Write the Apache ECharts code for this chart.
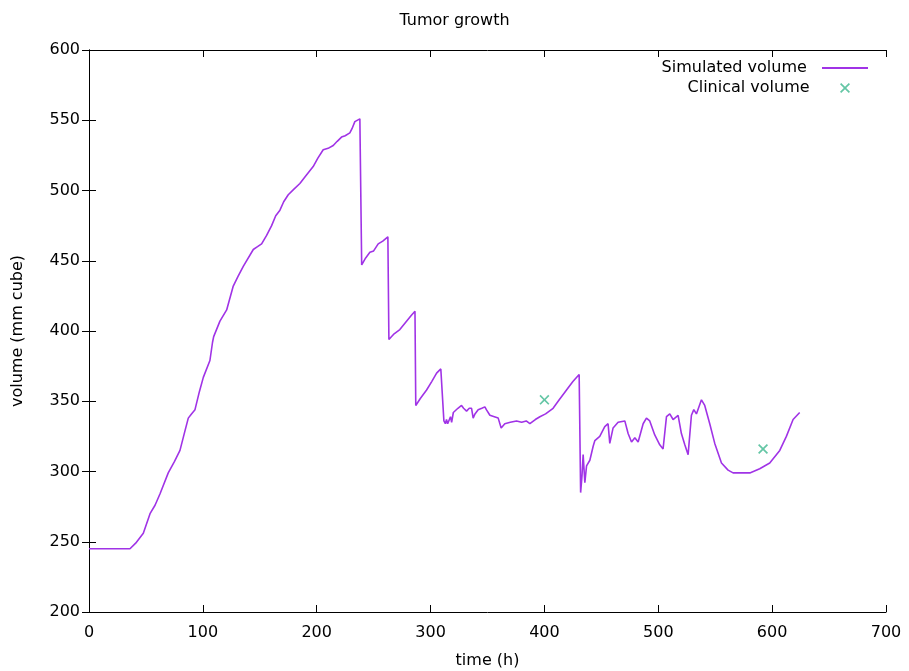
<!DOCTYPE html>
<html>
<head>
<meta charset="utf-8">
<script src="https://cdn.jsdelivr.net/npm/echarts@6/dist/echarts.min.js"></script>
<style>html,body{margin:0;padding:0;background:#fff;}#c{width:909px;height:671px;}</style>
</head>
<body>
<div id="c"></div>
<script>
const simTimes = [0,36,41,47.7,53.6,58,62.3,69.6,75,79.9,84,87.2,90,93.1,97,100.4,106.2,108.5,109.5,115,120.9,126.7,131,135.5,144.3,148,151.6,156,160.4,164,167.7,171,175,180,185.2,191,196.9,201,205.7,210,214.5,218,221.8,225,229.1,231,233.5,237.9,239,239.5,243,246.7,250,254,258,262.5,263.4,268,273,278,283,286.3,287,291,296.5,301,305.3,309,310.5,311,311.7,313,314,315,316.3,317.5,318.5,320,321.3,324,327.2,329,331.6,334,336,337.4,339,341.8,345,347.7,349,352.1,356,359.4,362,365.2,370,375.5,380,384,387.2,392,396,401,407.6,413,419.4,425,430.5,431,431.8,433,434,435.5,437,439.9,442.8,444.3,448.6,453,455.9,457.4,460.3,464.7,470.6,473.5,476.5,479.4,482.3,486.7,489.6,492.5,496.9,501.3,504.2,507.2,510.1,513,517.4,520.3,523.3,526.2,529.1,531.2,533.5,537.9,540.8,545.2,549.6,555.5,561.3,565.7,571.6,580.4,589.1,597.9,606.7,612.5,618.4,624.2];
const simVolumes = [245,245,249,256,270,276,284,299,307,315,328,338,341,344,357,367,379,392,396,407,415,432,439,446,458,460,462,468,475,482,486,492,497,501,505,511,517,523,529,530,532,535,538,539,541,544,549,551,551,447,452,456,457,462,464,467,394,398,401,406,411,414,347,352,358,364,370,373,374,374,336,334,337,334,335,339,335,342,343,345,347,345,343,345,345,338,341,344,345,346,344,340,339,338,331,334,335,336,335,336,334,337,339,341,345,351,358,364,369,369,285,297,312,292,304,308,318,322,325,332,334,320,331,335,336,327,321,324,321,334,338,336,326,319,316,339,341,337,340,327,319,312,340,344,341,351,347,334,320,306,301,299,299,299,302,306,315,325,337,342];
const clinicalTimes = [400, 592];
const clinicalVolumes = [351, 316];
const xTicks = [0,100,200,300,400,500,600,700];
const yTicks = [200,250,300,350,400,450,500,550,600];

const simData = simTimes.map((t, i) => [t, simVolumes[i]]);
const clinData = clinicalTimes.map((t, i) => [t, clinicalVolumes[i]]);
const FONT = 'DejaVu Sans';
const FS = 16;
const xPath = 'path://M0,1.2L1.2,0L5,3.8L8.8,0L10,1.2L6.2,5L10,8.8L8.8,10L5,6.2L1.2,10L0,8.8L3.8,5Z';
const axisCommon = {
  axisLine: {show: true, lineStyle: {color: '#000', width: 1}},
  axisTick: {show: true, inside: true, length: 7, lineStyle: {color: '#000'}},
  splitLine: {show: false}
};
const chart = echarts.init(document.getElementById('c'), null, {renderer: 'canvas'});
chart.setOption({
  animation: false,
  backgroundColor: '#fff',
  title: {text: 'Tumor growth', left: 'center', top: 8,
    textStyle: {fontFamily: FONT, fontSize: FS, fontWeight: 'normal', color: '#000'}},
  grid: {left: 89, right: 23, top: 50, bottom: 59, containLabel: false, outerBoundsMode: 'none'},
  legend: [
    {data: [{name: 'Simulated volume', icon: 'rect'}], right: 41, top: 60, padding: 0, itemWidth: 46, itemHeight: 2, align: 'right',
     formatter: n => n + '  ', textStyle: {fontFamily: FONT, fontSize: FS, color: '#000'}},
    {data: [{name: 'Clinical volume', icon: xPath}], right: 59, top: 80, padding: 0, itemWidth: 10, itemHeight: 10, align: 'right',
     formatter: n => n + '     ', textStyle: {fontFamily: FONT, fontSize: FS, color: '#000'}}
  ],
  xAxis: [
    Object.assign({type: 'value', min: xTicks[0], max: xTicks[xTicks.length-1], interval: 100, position: 'bottom',
      name: 'time (h)', nameLocation: 'middle', nameGap: 41,
      nameTextStyle: {fontFamily: FONT, fontSize: FS, color: '#000'},
      axisLabel: {fontFamily: FONT, fontSize: FS, color: '#000', margin: 13}}, axisCommon),
    Object.assign({type: 'value', min: xTicks[0], max: xTicks[xTicks.length-1], interval: 100, position: 'top',
      axisLabel: {show: false}}, axisCommon)
  ],
  yAxis: [
    Object.assign({type: 'value', min: yTicks[0], max: yTicks[yTicks.length-1], interval: 50, position: 'left',
      name: 'volume (mm cube)', nameLocation: 'middle', nameGap: 63,
      nameTextStyle: {fontFamily: FONT, fontSize: FS, color: '#000'},
      axisLabel: {fontFamily: FONT, fontSize: FS, color: '#000', margin: 9}}, axisCommon),
    Object.assign({type: 'value', min: yTicks[0], max: yTicks[yTicks.length-1], interval: 50, position: 'right',
      axisLabel: {show: false}}, axisCommon)
  ],
  series: [
    {name: 'Simulated volume', type: 'line', data: simData, showSymbol: false, symbol: 'none',
     lineStyle: {color: '#a033e6', width: 1.6}, itemStyle: {color: '#a033e6'}, z: 3},
    {name: 'Clinical volume', type: 'scatter', data: clinData, symbol: xPath, symbolSize: 10,
     itemStyle: {color: '#3db88f'}, z: 4}
  ]
});
</script>
</body>
</html>
